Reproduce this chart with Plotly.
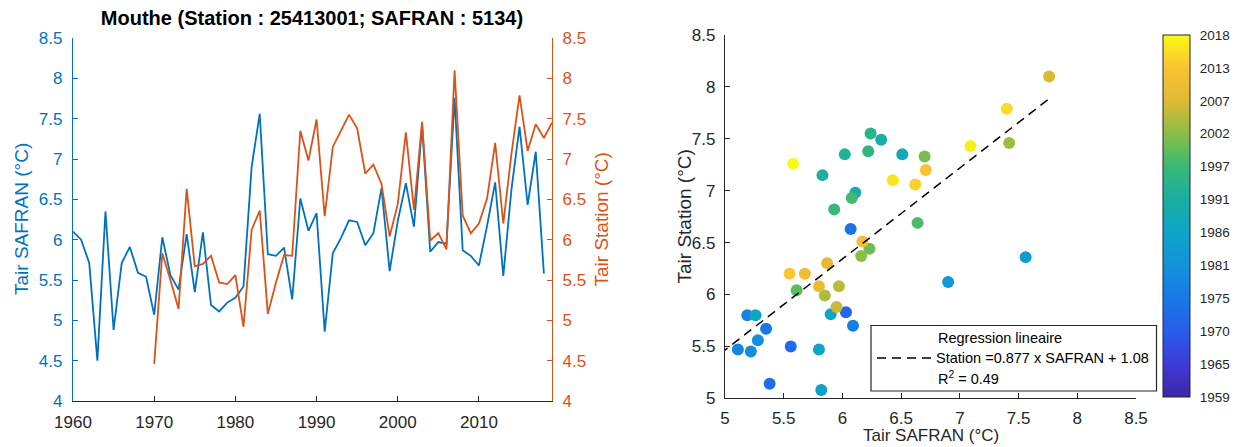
import plotly.graph_objects as go

# ---------------- data ----------------
safran_years = list(range(1960, 2019))
safran_tair = [6.10, 6.00, 5.71, 4.50, 6.35, 4.88, 5.71, 5.91, 5.59, 5.54,
               5.07, 6.03, 5.56, 5.38, 6.07, 5.35, 6.09, 5.19, 5.11, 5.22,
               5.28, 5.42, 6.90, 7.56, 5.82, 5.80, 5.90, 5.26, 6.51, 6.11,
               6.33, 4.86, 5.83, 6.02, 6.24, 6.22, 5.93, 6.08, 6.64, 5.61,
               6.23, 6.70, 6.16, 7.42, 5.85, 5.97, 5.95, 7.76, 5.87, 5.80,
               5.68, 6.17, 6.71, 5.55, 6.62, 7.40, 6.43, 7.09, 5.58]

station_years = list(range(1970, 2020))
station_tair = [4.46, 5.83, 5.50, 5.14, 6.63, 5.67, 5.70, 5.80, 5.47, 5.45,
                5.56, 4.92, 6.12, 6.36, 5.08, 5.47, 5.81, 5.80, 7.35, 6.98,
                7.49, 6.29, 7.15, 7.35, 7.55, 7.38, 6.82, 6.93, 6.69, 6.04,
                6.44, 7.33, 6.37, 7.46, 5.99, 6.08, 5.88, 8.10, 6.30, 6.08,
                6.20, 6.51, 7.20, 6.20, 7.06, 7.79, 7.10, 7.43, 7.26, 7.45]

colorbar_ticktext = ["1959", "1965", "1970", "1975", "1981", "1986",
                     "1991", "1997", "2002", "2007", "2013", "2018"]
year_min, year_max = 1959, 2018

reg_slope = 0.877
reg_intercept = 1.08
reg_r2 = 0.49

title_text = "Mouthe (Station : 25413001; SAFRAN : 5134)"

# ---------------- derived (paired years) ----------------
saf_map = dict(zip(safran_years, safran_tair))
sta_map = dict(zip(station_years, station_tair))
pair_years = [y for y in station_years if y in saf_map]
pair_x = [saf_map[y] for y in pair_years]
pair_y = [sta_map[y] for y in pair_years]
reg_x = [min(pair_x), max(pair_x)]
reg_y = [reg_slope * v + reg_intercept for v in reg_x]

# ---------------- style ----------------
W, H = 1239, 447
BLUE = "rgb(0,114,189)"
ORANGE = "rgb(217,83,25)"
GREY = "rgb(38,38,38)"
FONT = "Liberation Sans, Arial, sans-serif"

colormap = [
    (0.00, "rgb(62,38,168)"), (0.09, "rgb(62,58,215)"),
    (0.18, "rgb(40,92,235)"), (0.27, "rgb(25,120,230)"),
    (0.36, "rgb(20,145,220)"), (0.45, "rgb(12,165,200)"),
    (0.55, "rgb(25,175,160)"), (0.64, "rgb(60,185,115)"),
    (0.73, "rgb(140,190,70)"), (0.82, "rgb(225,185,50)"),
    (0.91, "rgb(250,196,50)"), (1.00, "rgb(249,250,20)"),
]


def px_x(p):
    return p / W


def px_y(p):
    return (H - p) / H


fig = go.Figure()

# left chart: time series
fig.add_trace(go.Scatter(x=safran_years, y=safran_tair, mode="lines",
                         line=dict(color=BLUE, width=1.8),
                         xaxis="x", yaxis="y", showlegend=False,
                         name="Tair SAFRAN"))
fig.add_trace(go.Scatter(x=station_years, y=station_tair, mode="lines",
                         line=dict(color=ORANGE, width=1.8),
                         xaxis="x", yaxis="y2", showlegend=False,
                         name="Tair Station"))

# right chart: scatter
n_ticks = len(colorbar_ticktext)
cb_vals = [year_min + i * (year_max - year_min) / (n_ticks - 1) for i in range(n_ticks)]
fig.add_trace(go.Scatter(
    x=pair_x, y=pair_y, mode="markers", xaxis="x2", yaxis="y3",
    showlegend=False, name="years",
    marker=dict(size=12, color=pair_years, colorscale=colormap,
                cmin=year_min, cmax=year_max, line=dict(width=0),
                colorbar=dict(
                    x=px_x(1163), xanchor="left", xref="paper",
                    y=px_y((35 + 397) / 2), yanchor="middle", yref="paper",
                    len=(397 - 35) / H, lenmode="fraction",
                    thickness=27, thicknessmode="pixels",
                    outlinecolor=GREY, outlinewidth=1,
                    tickvals=cb_vals, ticktext=colorbar_ticktext,
                    ticks="outside", ticklen=7, tickcolor="rgba(0,0,0,0)",
                    tickfont=dict(family=FONT, size=13.5, color=GREY),
                    xpad=0, ypad=0))))
fig.add_trace(go.Scatter(x=reg_x, y=reg_y, mode="lines", xaxis="x2", yaxis="y3",
                         line=dict(color="black", width=1.5, dash="9px,6px"),
                         showlegend=False, name="Regression lineaire"))

tickfont = dict(family=FONT, size=17, color=GREY)
fig.update_layout(
    width=W, height=H, margin=dict(l=0, r=0, t=0, b=0),
    paper_bgcolor="white", plot_bgcolor="white",
    font=dict(family=FONT, color=GREY),
    title=dict(text="<b>" + title_text + "</b>", x=px_x(312), xanchor="center",
               xref="paper", y=px_y(18), yanchor="middle", yref="paper",
               font=dict(family=FONT, size=20, color="black")),
    xaxis=dict(domain=[px_x(73), px_x(552)], range=[1960, 2019],
               tickvals=[1960, 1970, 1980, 1990, 2000, 2010],
               ticks="inside", ticklen=5, tickcolor=GREY, showgrid=False,
               zeroline=False, showline=True, linecolor=GREY, linewidth=1.2,
               tickfont=tickfont, ticklabelstandoff=5, anchor="y",
               automargin=False),
    yaxis=dict(domain=[px_y(401), px_y(38)], range=[4, 8.5], dtick=0.5,
               ticks="inside", ticklen=5, tickcolor=BLUE, showgrid=False,
               zeroline=False, showline=True, linecolor=BLUE, linewidth=1.2,
               tickfont=dict(family=FONT, size=17, color=BLUE),
               ticklabelstandoff=6, anchor="x", automargin=False),
    yaxis2=dict(range=[4, 8.5], dtick=0.5, overlaying="y", side="right",
                anchor="x", ticks="inside", ticklen=5, tickcolor=ORANGE,
                showgrid=False, zeroline=False, showline=True,
                linecolor=ORANGE, linewidth=1.2,
                tickfont=dict(family=FONT, size=17, color=ORANGE),
                ticklabelstandoff=6, automargin=False),
    xaxis2=dict(domain=[px_x(725), px_x(1136)], range=[5, 8.5], dtick=0.5,
                ticks="inside", ticklen=5, tickcolor=GREY, showgrid=False,
                zeroline=False, showline=True, linecolor=GREY, linewidth=1.2,
                tickfont=tickfont, ticklabelstandoff=4, anchor="y3",
                automargin=False),
    yaxis3=dict(domain=[px_y(398.3), px_y(35)], range=[5, 8.5], dtick=0.5,
                ticks="inside", ticklen=5, tickcolor=GREY, showgrid=False,
                zeroline=False, showline=True, linecolor=GREY, linewidth=1.2,
                tickfont=tickfont, ticklabelstandoff=5, anchor="x2",
                automargin=False),
)

annotations = [
    dict(text="Tair SAFRAN (°C)", x=px_x(21.5), y=px_y(219.5), textangle=-90,
         font=dict(family=FONT, size=19, color=BLUE)),
    dict(text="Tair Station (°C)", x=px_x(601), y=px_y(219.5), textangle=-90,
         font=dict(family=FONT, size=19, color=ORANGE)),
    dict(text="Tair Station (°C)", x=px_x(684), y=px_y(216.5), textangle=-90,
         font=dict(family=FONT, size=19, color=GREY)),
    dict(text="Tair SAFRAN (°C)", x=px_x(930.5), y=px_y(435.5),
         font=dict(family=FONT, size=17, color=GREY)),
    # legend box text
    dict(text="Regression lineaire", x=px_x(936), y=px_y(338), xanchor="left",
         font=dict(family=FONT, size=14.5, color="black")),
    dict(text="Station =%.3f x SAFRAN + %.2f" % (reg_slope, reg_intercept),
         x=px_x(934), y=px_y(358), xanchor="left",
         font=dict(family=FONT, size=14.5, color="black")),
    dict(text="R<sup>2</sup> = %.2f" % reg_r2, x=px_x(936), y=px_y(378),
         xanchor="left", font=dict(family=FONT, size=14.5, color="black")),
]
for a in annotations:
    a.setdefault("xref", "paper")
    a.setdefault("yref", "paper")
    a.setdefault("showarrow", False)
    a.setdefault("xanchor", "center")
    a.setdefault("yanchor", "middle")
fig.update_layout(annotations=annotations)

fig.update_layout(shapes=[
    dict(type="rect", xref="paper", yref="paper",
         x0=px_x(871), x1=px_x(1156.5), y0=px_y(391), y1=px_y(325.5),
         line=dict(color=GREY, width=1.2), fillcolor="white", layer="above"),
    dict(type="line", xref="paper", yref="paper",
         x0=px_x(877), x1=px_x(931), y0=px_y(358), y1=px_y(358),
         line=dict(color="black", width=1.5, dash="9px,6px"), layer="above"),
])

fig.write_html("out.html")
